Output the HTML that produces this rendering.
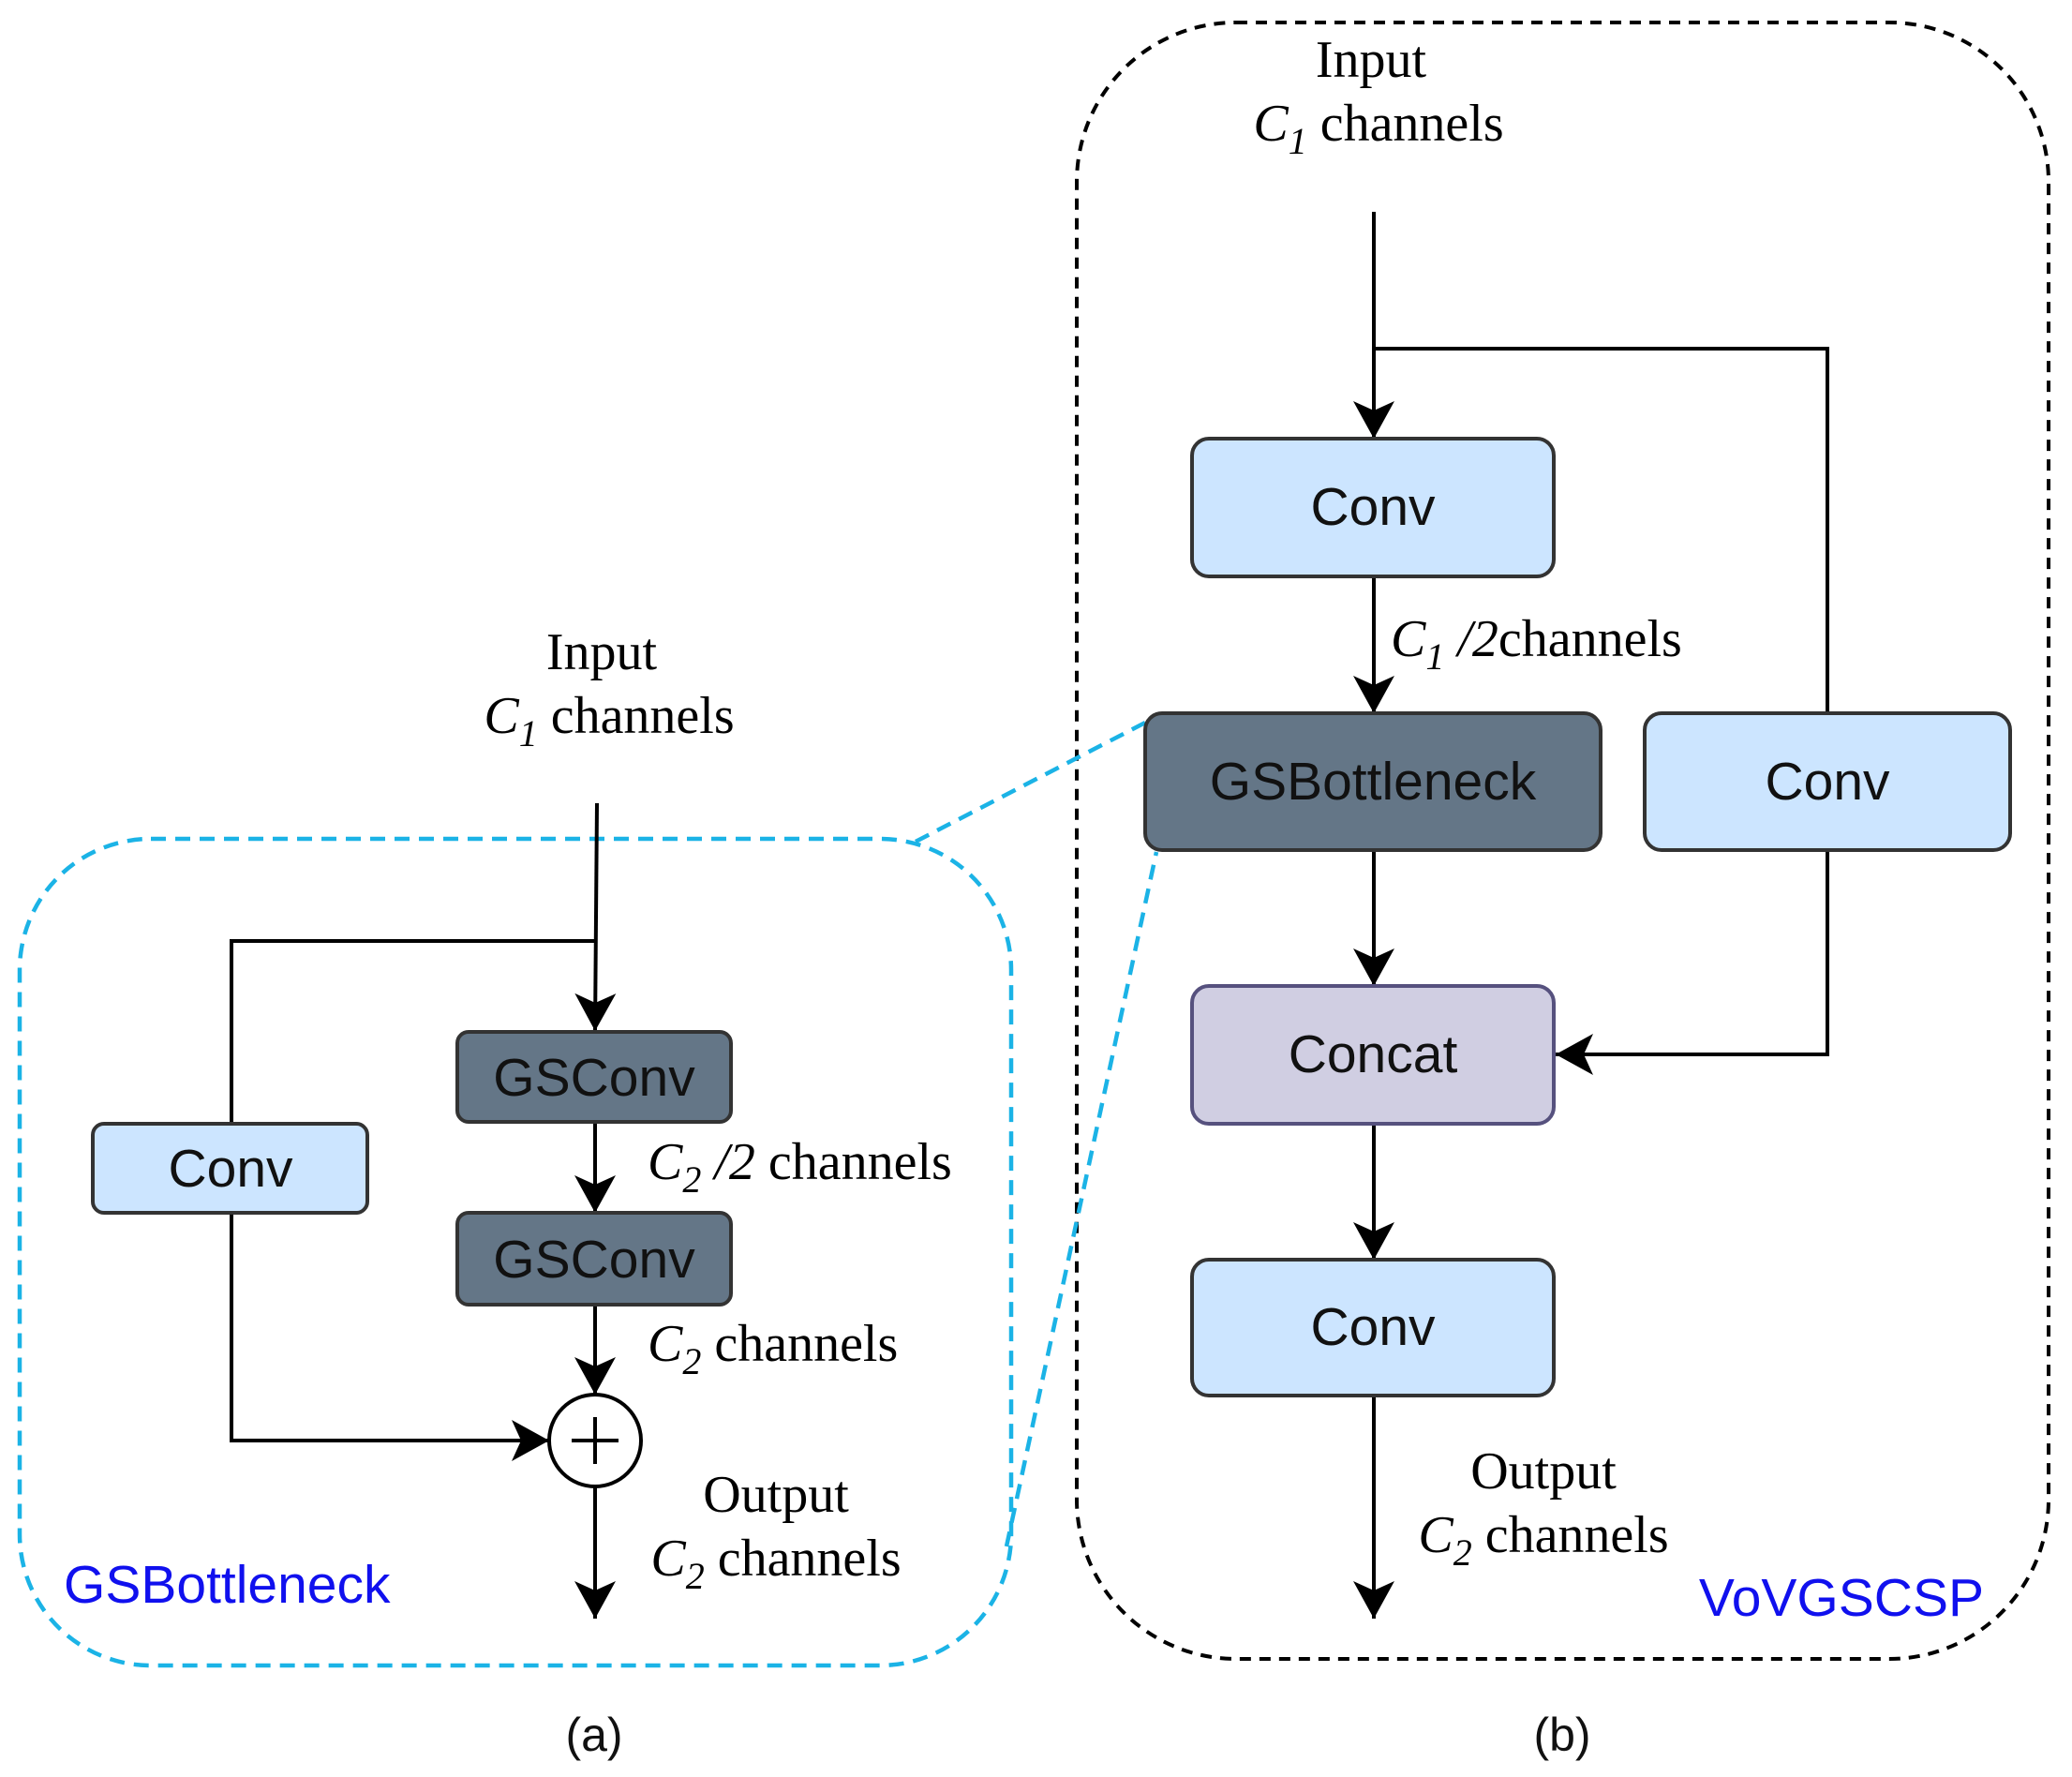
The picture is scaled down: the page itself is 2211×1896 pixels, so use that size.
<!DOCTYPE html>
<html><head><meta charset="utf-8"><style>
html,body{margin:0;padding:0;background:#fff}
svg{display:block}
.s{font-family:"Liberation Serif",serif;font-size:56px;fill:#000}
.b{font-family:"Liberation Sans",sans-serif;font-size:57px;fill:#111;text-anchor:middle}
</style></head><body>
<svg width="2211" height="1896" viewBox="0 0 2211 1896" xmlns="http://www.w3.org/2000/svg">
<defs>
<marker id="ah" viewBox="0 0 40 44" refX="40" refY="22" markerWidth="40" markerHeight="44" markerUnits="userSpaceOnUse" orient="auto">
<path d="M0,0 L40,22 L0,44 L10,22 Z" fill="#000"/>
</marker>
</defs>
<rect x="21" y="895" width="1058" height="882" rx="140" fill="none" stroke="#1bb3e6" stroke-width="4.5" stroke-dasharray="16,10"/>
<rect x="1149" y="24" width="1037" height="1746" rx="170" fill="none" stroke="#000" stroke-width="4" stroke-dasharray="12,9"/>
<line x1="977" y1="898" x2="1222" y2="771" stroke="#1bb3e6" stroke-width="4.5" stroke-dasharray="16,10"/>
<line x1="1074" y1="1650" x2="1234" y2="909" stroke="#1bb3e6" stroke-width="4.5" stroke-dasharray="16,10"/>

<g stroke="#000" stroke-width="4" fill="none">
<line x1="637" y1="857" x2="635" y2="1100" marker-end="url(#ah)"/>
<polyline points="637,1004 247,1004 247,1199"/>
<line x1="635" y1="1197" x2="635" y2="1294" marker-end="url(#ah)"/>
<line x1="635" y1="1392" x2="635" y2="1488" marker-end="url(#ah)"/>
<polyline points="247,1294 247,1537 586,1537" marker-end="url(#ah)"/>
<line x1="635" y1="1586" x2="635" y2="1727" marker-end="url(#ah)"/>
<line x1="1466" y1="226" x2="1466" y2="468" marker-end="url(#ah)"/>
<polyline points="1466,372 1950,372 1950,761"/>
<line x1="1466" y1="615" x2="1466" y2="761" marker-end="url(#ah)"/>
<line x1="1466" y1="907" x2="1466" y2="1052" marker-end="url(#ah)"/>
<polyline points="1950,907 1950,1125 1660,1125" marker-end="url(#ah)"/>
<line x1="1466" y1="1199" x2="1466" y2="1344" marker-end="url(#ah)"/>
<line x1="1466" y1="1489" x2="1466" y2="1727" marker-end="url(#ah)"/>
</g>

<rect x="99" y="1199" width="293" height="95" rx="12" fill="#cce5ff" stroke="#333" stroke-width="4"/>
<text class="b" x="246" y="1266">Conv</text>
<rect x="488" y="1101" width="292" height="96" rx="12" fill="#647687" stroke="#333" stroke-width="4"/>
<text class="b" x="634" y="1169">GSConv</text>
<rect x="488" y="1294" width="292" height="98" rx="12" fill="#647687" stroke="#333" stroke-width="4"/>
<text class="b" x="634" y="1363">GSConv</text>
<circle cx="635" cy="1537" r="49" fill="#fff" stroke="#000" stroke-width="4"/>
<line x1="610" y1="1537" x2="660" y2="1537" stroke="#000" stroke-width="4"/>
<line x1="635" y1="1512" x2="635" y2="1562" stroke="#000" stroke-width="4"/>

<rect x="1272" y="468" width="386" height="147" rx="18" fill="#cce5ff" stroke="#333" stroke-width="4"/>
<text class="b" x="1465" y="560">Conv</text>
<rect x="1222" y="761" width="486" height="146" rx="18" fill="#647687" stroke="#333" stroke-width="4"/>
<text class="b" x="1465" y="853">GSBottleneck</text>
<rect x="1755" y="761" width="390" height="146" rx="18" fill="#cce5ff" stroke="#333" stroke-width="4"/>
<text class="b" x="1950" y="853">Conv</text>
<rect x="1272" y="1052" width="386" height="147" rx="18" fill="#d0cee2" stroke="#56517e" stroke-width="4"/>
<text class="b" x="1465" y="1144">Concat</text>
<rect x="1272" y="1344" width="386" height="145" rx="18" fill="#cce5ff" stroke="#333" stroke-width="4"/>
<text class="b" x="1465" y="1435">Conv</text>

<text class="s" x="642" y="714" text-anchor="middle">Input</text>
<text class="s" x="650" y="782" text-anchor="middle"><tspan font-style="italic">C</tspan><tspan font-style="italic" font-size="40" dy="14">1</tspan><tspan dy="-14"> channels</tspan></text>
<text class="s" x="691" y="1258"><tspan font-style="italic">C</tspan><tspan font-style="italic" font-size="40" dy="14">2</tspan><tspan dy="-14" font-style="italic"> /2</tspan><tspan> channels</tspan></text>
<text class="s" x="691" y="1452"><tspan font-style="italic">C</tspan><tspan font-style="italic" font-size="40" dy="14">2</tspan><tspan dy="-14"> channels</tspan></text>
<text class="s" x="828" y="1613" text-anchor="middle">Output</text>
<text class="s" x="828" y="1681" text-anchor="middle"><tspan font-style="italic">C</tspan><tspan font-style="italic" font-size="40" dy="14">2</tspan><tspan dy="-14"> channels</tspan></text>
<text x="68" y="1710" font-family="Liberation Sans,sans-serif" font-size="57" fill="#1010ee">GSBottleneck</text>

<text class="s" x="1463" y="82" text-anchor="middle">Input</text>
<text class="s" x="1471" y="150" text-anchor="middle"><tspan font-style="italic">C</tspan><tspan font-style="italic" font-size="40" dy="14">1</tspan><tspan dy="-14"> channels</tspan></text>
<text class="s" x="1484" y="700"><tspan font-style="italic">C</tspan><tspan font-style="italic" font-size="40" dy="14">1</tspan><tspan dy="-14" font-style="italic"> /2</tspan><tspan>channels</tspan></text>
<text class="s" x="1647" y="1588" text-anchor="middle">Output</text>
<text class="s" x="1647" y="1656" text-anchor="middle"><tspan font-style="italic">C</tspan><tspan font-style="italic" font-size="40" dy="14">2</tspan><tspan dy="-14"> channels</tspan></text>
<text x="2117" y="1724" text-anchor="end" font-family="Liberation Sans,sans-serif" font-size="57" fill="#1010ee">VoVGSCSP</text>

<text x="634" y="1868" text-anchor="middle" font-family="Liberation Sans,sans-serif" font-size="50" fill="#111">(a)</text>
<text x="1667" y="1868" text-anchor="middle" font-family="Liberation Sans,sans-serif" font-size="50" fill="#111">(b)</text>
</svg>
</body></html>
